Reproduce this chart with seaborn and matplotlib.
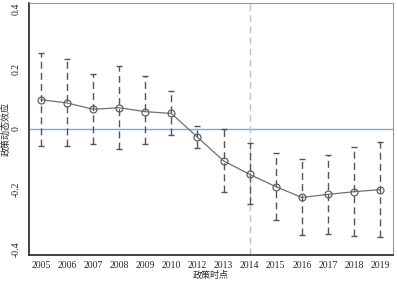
import pandas as pd
import matplotlib
matplotlib.use("Agg")
import matplotlib.pyplot as plt
import seaborn as sns

years = ["2005", "2006", "2007", "2008", "2009", "2010", "2012",
         "2013", "2014", "2015", "2016", "2017", "2018", "2019"]
coef = [0.098, 0.087, 0.066, 0.071, 0.058, 0.052, -0.027,
        -0.106, -0.151, -0.192, -0.228, -0.218, -0.209, -0.202]
ci_low = [-0.055, -0.058, -0.050, -0.065, -0.050, -0.020, -0.062,
          -0.209, -0.251, -0.304, -0.354, -0.350, -0.357, -0.360]
ci_high = [0.253, 0.235, 0.184, 0.210, 0.177, 0.126, 0.010,
           0.000, -0.048, -0.079, -0.101, -0.087, -0.060, -0.044]

df = pd.DataFrame({"year": years, "coef": coef, "lo": ci_low, "hi": ci_high})
df["pos"] = range(len(df))

sns.set_style("white")
plt.rcParams["font.family"] = ["Liberation Serif", "Noto Sans CJK SC"]

fig = plt.figure(figsize=(3.97, 2.81), dpi=100)
ax = fig.add_axes([0.073, 0.0925, 0.917, 0.8965])

# zero line and policy year line
ax.axhline(0, color="#8fa5b8", lw=1.0, zorder=1)
ax.axvline(df.loc[df["year"] == "2014", "pos"].iloc[0], color="#b8c6c2",
           lw=1.0, ls=(0, (5, 3)), zorder=1)

# confidence intervals
eb = ax.errorbar(df["pos"], df["coef"],
                 yerr=[df["coef"] - df["lo"], df["hi"] - df["coef"]],
                 fmt="none", ecolor="#555555", elinewidth=1.0,
                 capsize=2.5, capthick=1.0, zorder=2)
eb[2][0].set_linestyle((0, (5, 3)))

sns.lineplot(data=df, x="pos", y="coef", ax=ax, color="#707070", lw=0.9,
             marker="o", markersize=5, markerfacecolor="none",
             markeredgecolor="#606060", markeredgewidth=0.9, zorder=3)

ax.set_xlim(-0.46, 13.5)
ax.set_ylim(-0.42, 0.42)
ax.set_xticks(df["pos"])
ax.set_xticklabels(df["year"], fontsize=7)
ax.set_yticks([-0.4, -0.2, 0, 0.2, 0.4])
ax.set_yticklabels(["-0.4", "-0.2", "0", "0.2", "0.4"], fontsize=7,
                   rotation=90, va="center")
ax.tick_params(axis="y", length=4, width=0.8, color="#333333", pad=2)
ax.tick_params(axis="x", length=3, width=0.8, color="#333333", pad=1.5)
ax.set_xlabel("政策时点", fontsize=6.5, family=["Noto Sans CJK SC"], labelpad=0)
ax.set_ylabel("政策动态效应", fontsize=6.5, family=["Noto Sans CJK SC"], labelpad=1)

for s in ["left", "bottom"]:
    ax.spines[s].set_color("#222222")
    ax.spines[s].set_linewidth(1.2)
for s in ["top", "right"]:
    ax.spines[s].set_color("#999999")
    ax.spines[s].set_linewidth(0.8)

fig.savefig("out.png", dpi=100)
